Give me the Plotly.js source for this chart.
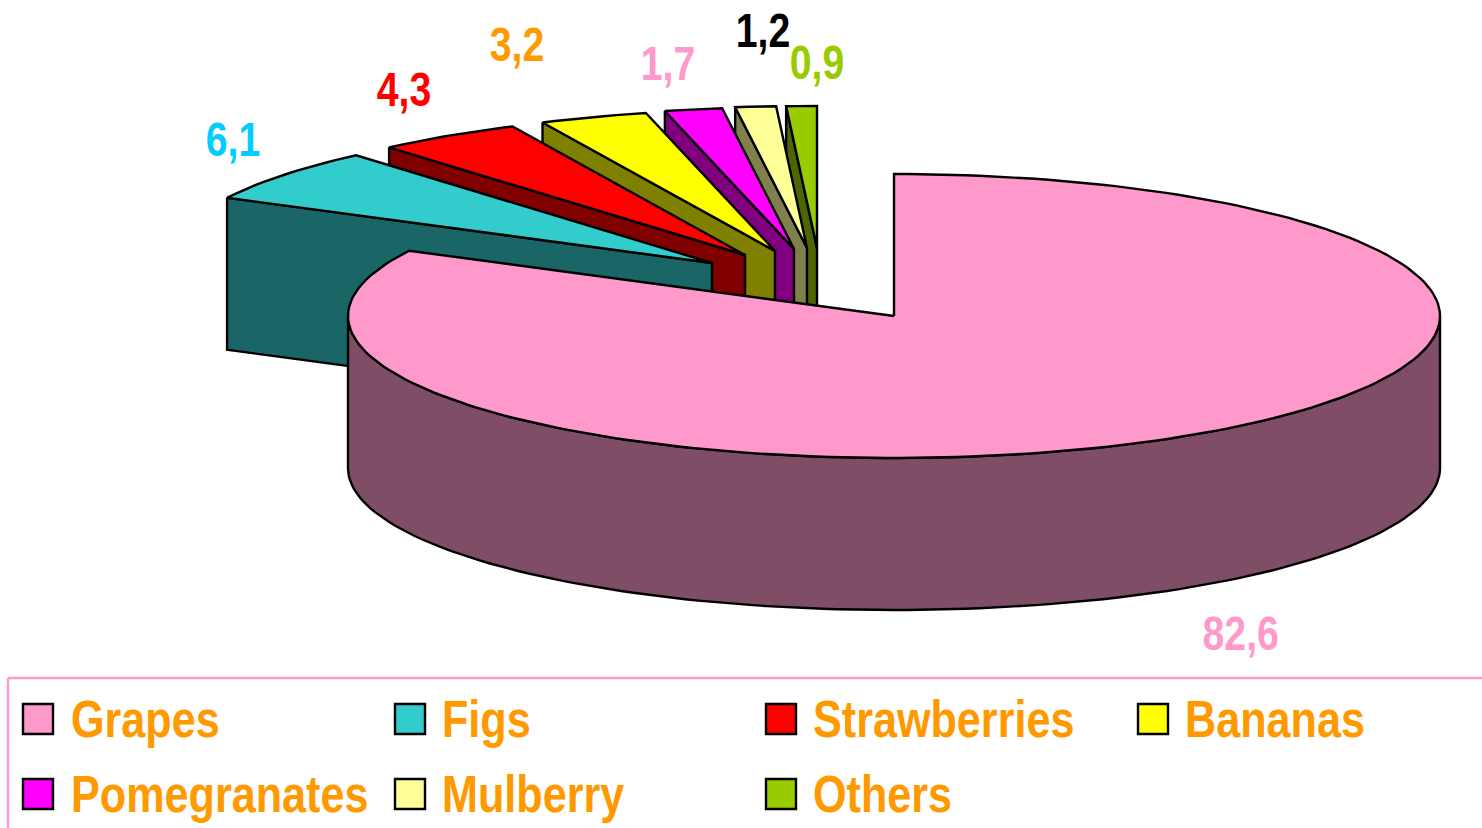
<!DOCTYPE html>
<html><head><meta charset="utf-8">
<script src="https://cdn.plot.ly/plotly-3.0.1.min.js"></script>
<style>html,body{margin:0;padding:0;background:#fff;overflow:hidden}#c{width:1482px;height:828px}</style>
</head><body><div id="c"></div>
<script>
const categories = ['Grapes','Figs','Strawberries','Bananas','Pomegranates','Mulberry','Others'];
const shares = [82.6,6.1,4.3,3.2,1.7,1.2,0.9];
const topColors = ['#FF99CC','#33CCCC','#FF0000','#FFFF00','#FF00FF','#FFFF99','#99CC00'];
const sideColors = ['#804D66','#1A6666','#800000','#808000','#800080','#80804D','#4D6600'];
const labelColors = ['#FF99CC','#00CCFF','#FF0000','#FF9900','#FF99CC','#000000','#99CC00'];
const apexX = [894,712,745,775,794,807,817];
const apexY = [316,263,255,251,249,248,248];
const labelX = [1240,233,404,517,668,763,817];
const labelY = [633,139,89,44,63,30,62];
const legendX = [38,410,781,1153,38,410,781];
const legendY = [719,719,719,719,794,794,794];
const legendTextX = [69,440,811,1183,69,440,811];

const RX = 546, RY = 142, DEPTH = 152, STROKE = 2.4;
const FONT = '"Liberation Sans",Arial,sans-serif';
const total = shares.reduce((a,b)=>a+b,0);

function arc(cx,cy,a0,a1,dy){
  const n = Math.max(2,Math.ceil(Math.abs(a1-a0)/1.5)), pts=[];
  for(let i=0;i<=n;i++){
    const t=(a0+(a1-a0)*i/n)*Math.PI/180;
    pts.push([cx+RX*Math.sin(t),cy-RY*Math.cos(t)+(dy||0)]);
  }
  return pts;
}
function poly(pts,color){
  const closed=pts.concat([pts[0]]);
  return {type:'scatter',mode:'lines',x:closed.map(p=>p[0]),y:closed.map(p=>p[1]),
    fill:'toself',fillcolor:color,line:{color:'#000',width:STROKE,shape:'linear'},
    hoverinfo:'skip',showlegend:false};
}
const starts=[];let acc=0;
shares.forEach(v=>{starts.push(acc/total*360);acc+=v;});
const ends=shares.map((v,i)=>starts[i]+v/total*360);

const traces=[];
for(let i=categories.length-1;i>=1;i--){
  const ax=apexX[i],ay=apexY[i];
  const outer=arc(ax,ay,starts[i],ends[i]);
  const p0=outer[0];
  traces.push(poly([p0,[ax,ay],[ax,ay+DEPTH],[p0[0],p0[1]+DEPTH]],sideColors[i]));
  traces.push(poly([[ax,ay]].concat(outer),topColors[i]));
}
{
  const ax=apexX[0],ay=apexY[0];
  const a0=Math.max(starts[0],90),a1=Math.min(ends[0],270);
  traces.push(poly(arc(ax,ay,a0,a1).concat(arc(ax,ay,a1,a0,DEPTH)),sideColors[0]));
  traces.push(poly([[ax,ay]].concat(arc(ax,ay,starts[0],ends[0])),topColors[0]));
}
traces.push({type:'scatter',mode:'markers',x:legendX,y:legendY,text:categories,hoverinfo:'text',showlegend:false,
  marker:{symbol:'square',size:30,color:topColors,line:{color:'#000',width:2.4}}});

const annotations=[];
shares.forEach((v,i)=>annotations.push({xref:'x',yref:'y',x:labelX[i],y:labelY[i],text:v.toFixed(1).replace('.',','),
  showarrow:false,xanchor:'center',yanchor:'middle',font:{family:FONT,size:49,color:labelColors[i],weight:700}}));
categories.forEach((c,i)=>annotations.push({xref:'x',yref:'y',x:legendTextX[i],y:legendY[i],text:c,
  showarrow:false,xanchor:'left',yanchor:'middle',font:{family:FONT,size:52,color:'#FF9900',weight:700}}));

const layout={width:1482,height:828,margin:{l:0,r:0,t:0,b:0},paper_bgcolor:'#fff',plot_bgcolor:'#fff',showlegend:false,
  xaxis:{range:[0,1482],visible:false,fixedrange:true},
  yaxis:{range:[828,0],visible:false,fixedrange:true},
  shapes:[
    {type:'line',xref:'x',yref:'y',x0:8,y0:678,x1:1482,y1:678,line:{color:'#FF99CC',width:2.4}},
    {type:'line',xref:'x',yref:'y',x0:8,y0:678,x1:8,y1:828,line:{color:'#FF99CC',width:2.4}}
  ],
  annotations};
Plotly.newPlot('c',traces,layout,{displayModeBar:false,staticPlot:true}).then(()=>{
  // Condense the text horizontally (Arial Narrow look) around its anchor
  const nLabels=shares.length;
  document.querySelectorAll('#c .annotation-text').forEach((el,i)=>{
    const b=el.getBBox();
    const isLabel=i<nLabels;
    const a=isLabel?b.x+b.width/2:b.x;
    const s=isLabel?0.8:0.83;
    const prev=el.getAttribute('transform')||'';
    el.setAttribute('transform',`${prev} translate(${a},0) scale(${s},1) translate(${-a},0)`);
  });
});
</script></body></html>
